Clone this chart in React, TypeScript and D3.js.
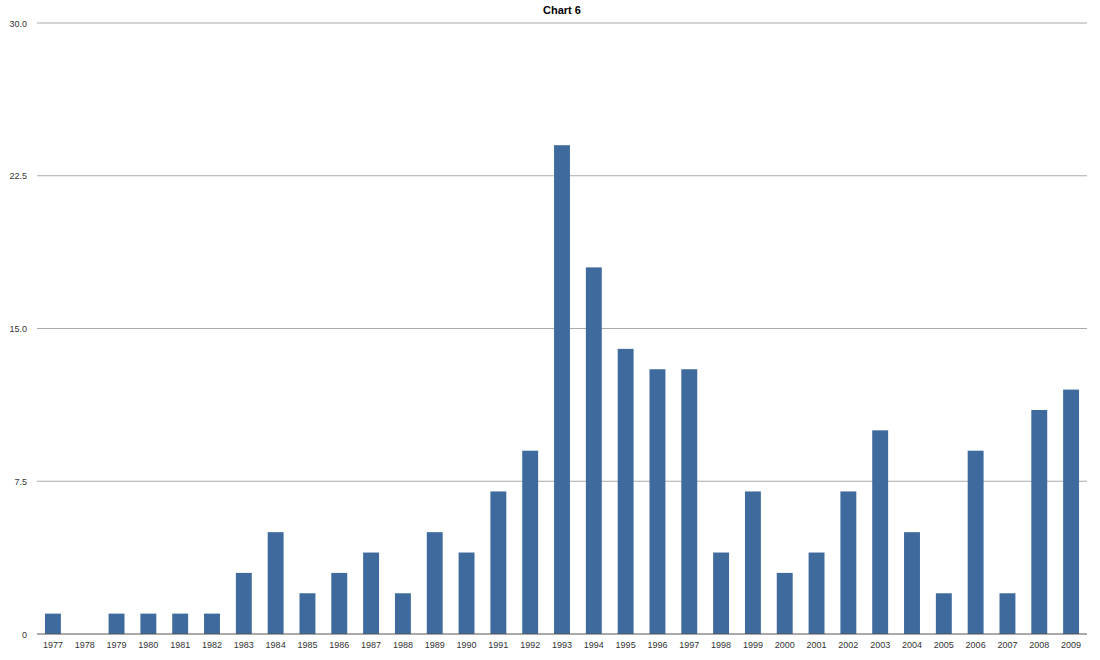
import React from "react";
import * as d3 from "d3";

const years = ["1977","1978","1979","1980","1981","1982","1983","1984","1985","1986","1987","1988","1989","1990","1991","1992","1993","1994","1995","1996","1997","1998","1999","2000","2001","2002","2003","2004","2005","2006","2007","2008","2009"];
const values = [1,0,1,1,1,1,3,5,2,3,4,2,5,4,7,9,24,18,14,13,13,4,7,3,4,7,10,5,2,9,2,11,12];
const yTicks = [0, 7.5, 15, 22.5, 30];
const yTickLabels = ["0", "7.5", "15.0", "22.5", "30.0"];
const title = "Chart 6";

export default function App() {
  const W = 1100, H = 660;
  const left = 37, right = 1087, top = 23, bottom = 634;
  const x = d3.scaleBand<string>().domain(years).range([left, right]).paddingInner(0.5).paddingOuter(0.25);
  const y = d3.scaleLinear().domain([0, 30]).range([bottom, top]);
  const font = "'Liberation Sans', Arial, Helvetica, sans-serif";
  return (
    <svg width={W} height={H} style={{ position: "absolute", left: 0, top: 0 }}>
      <rect x={0} y={0} width={W} height={H} fill="#fff" />
      <text x={(left + right) / 2} y={14} textAnchor="middle" fontFamily={font} fontWeight="bold" fontSize={11} fill="#000">{title}</text>
      {yTicks.map((t, i) => (
        <g key={i}>
          {t !== 0 && <line x1={left} x2={right} y1={y(t)} y2={y(t)} stroke="#aaa" strokeWidth={1} />}
          <text x={27} y={y(t) + 3.5} textAnchor="end" fontFamily={font} fontSize={9} fill="#333">{yTickLabels[i]}</text>
        </g>
      ))}
      {years.map((yr, i) => (
        <rect key={yr} x={x(yr)} y={y(values[i])} width={x.bandwidth()} height={bottom - y(values[i])} fill="#3e6a9e" />
      ))}
      <line x1={left} x2={right} y1={bottom} y2={bottom} stroke="#555" strokeWidth={1} />
      {years.map((yr) => (
        <text key={yr} x={(x(yr) as number) + x.bandwidth() / 2} y={bottom + 14} textAnchor="middle" fontFamily={font} fontSize={9} fill="#333">{yr}</text>
      ))}
    </svg>
  );
}
